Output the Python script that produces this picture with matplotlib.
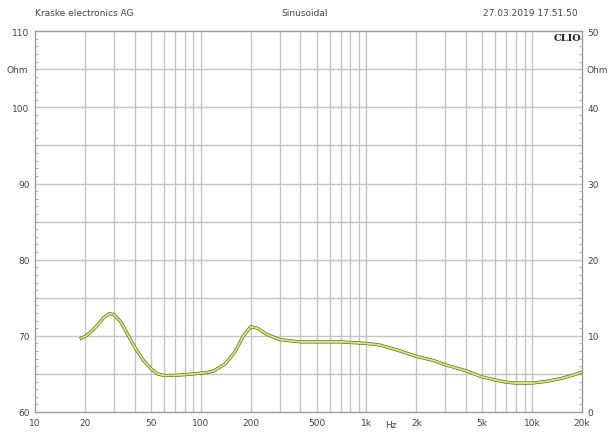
import matplotlib
matplotlib.use("Agg")
import matplotlib.pyplot as plt
from matplotlib.ticker import FixedLocator, NullFormatter, MultipleLocator

# impedance curve
freq = [19, 20, 22, 24, 26, 28, 30, 33, 36, 40, 45, 50, 55, 60, 70, 80, 90,
        100, 110, 120, 140, 160, 180, 200, 220, 250, 300, 400, 500, 700,
        1000, 1200, 1500, 2000, 2500, 3000, 4000, 5000, 6000, 7000, 8000,
        10000, 12000, 15000, 18000, 21000]
ohm = [69.7, 69.9, 70.6, 71.5, 72.4, 72.9, 72.8, 71.8, 70.3, 68.5, 66.8,
       65.7, 65.0, 64.8, 64.8, 64.9, 65.0, 65.1, 65.2, 65.4, 66.3, 67.8,
       69.9, 71.2, 71.0, 70.2, 69.5, 69.2, 69.2, 69.2, 69.0, 68.8, 68.2,
       67.3, 66.8, 66.2, 65.4, 64.6, 64.2, 63.9, 63.8, 63.8, 64.0, 64.4,
       64.9, 65.4]

xticks = [10, 20, 50, 100, 200, 500, 1000, 2000, 5000, 10000, 20000]
xlabels = ["10", "20", "50", "100", "200", "500", "1k", "2k", "5k", "10k", "20k"]
yticks_left = [60, 70, 80, 90, 100, 110]
yticks_right = [0, 10, 20, 30, 40, 50]

grid_x = [m * 10 ** d for d in range(1, 5) for m in range(1, 10)]
grid_x = [g for g in grid_x if 10 < g < 20000]

txt = "#444444"
fig = plt.figure(figsize=(6.09, 4.35), dpi=100)
ax = fig.add_axes([0.0575, 0.0506, 0.8982, 0.8754])
ax.set_xscale("log")
ax.set_xlim(10, 20000)
ax.set_ylim(60, 110)

for g in grid_x:
    ax.axvline(g, color="#c4c4c4", lw=1.0, zorder=1)
for h in range(65, 110, 5):
    ax.axhline(h, color="#c4c4c4", lw=1.0, zorder=1)

ax.plot(freq, ohm, color="#55642c", lw=2.3, zorder=3)
ax.plot(freq, ohm, color="#d8e472", lw=1.4, zorder=4)

ax.xaxis.set_major_locator(FixedLocator(xticks))
ax.set_xticklabels(xlabels)
ax.xaxis.set_minor_formatter(NullFormatter())
ax.tick_params(axis="x", which="both", length=0, labelsize=6.5,
               colors=txt, pad=4)
ax.set_yticks(yticks_left)
ax.yaxis.set_minor_locator(MultipleLocator(1))
ax.tick_params(axis="y", which="major", length=0, labelsize=6.5,
               colors=txt, pad=4)
ax.tick_params(axis="y", which="minor", length=2, direction="in",
               color="#aaaaaa")
for s in ax.spines.values():
    s.set_color("#999999")
    s.set_linewidth(1.0)

ax2 = ax.twinx()
ax2.set_ylim(0, 50)
ax2.set_yticks(yticks_right)
ax2.yaxis.set_minor_locator(MultipleLocator(1))
ax2.tick_params(axis="y", which="major", length=0, labelsize=6.5,
                colors=txt, pad=4)
ax2.tick_params(axis="y", which="minor", length=2, direction="in",
                color="#aaaaaa")
for s in ax2.spines.values():
    s.set_visible(False)

ax.text(1400, 59.0, "Hz", fontsize=6.5, color=txt, ha="center", va="top")
ax.text(-0.012, 105, "Ohm", transform=ax.get_yaxis_transform(),
        fontsize=6.5, color=txt, ha="right", va="center")
ax.text(1.008, 105, "Ohm", transform=ax.get_yaxis_transform(),
        fontsize=6.5, color=txt, ha="left", va="center")
ax.text(0.998, 0.995, "CLIO", transform=ax.transAxes, fontsize=7,
        fontweight="bold", color="#222222", ha="right", va="top",
        family="DejaVu Serif")

fig.text(35 / 609, 1 - 14 / 435, "Kraske electronics AG", fontsize=6.5,
         color=txt, ha="left", va="center")
fig.text(305 / 609, 1 - 14 / 435, "Sinusoidal", fontsize=6.5,
         color=txt, ha="center", va="center")
fig.text(578 / 609, 1 - 14 / 435, "27.03.2019 17.51.50", fontsize=6.5,
         color=txt, ha="right", va="center")

fig.savefig("out.png", dpi=100, facecolor="white")
